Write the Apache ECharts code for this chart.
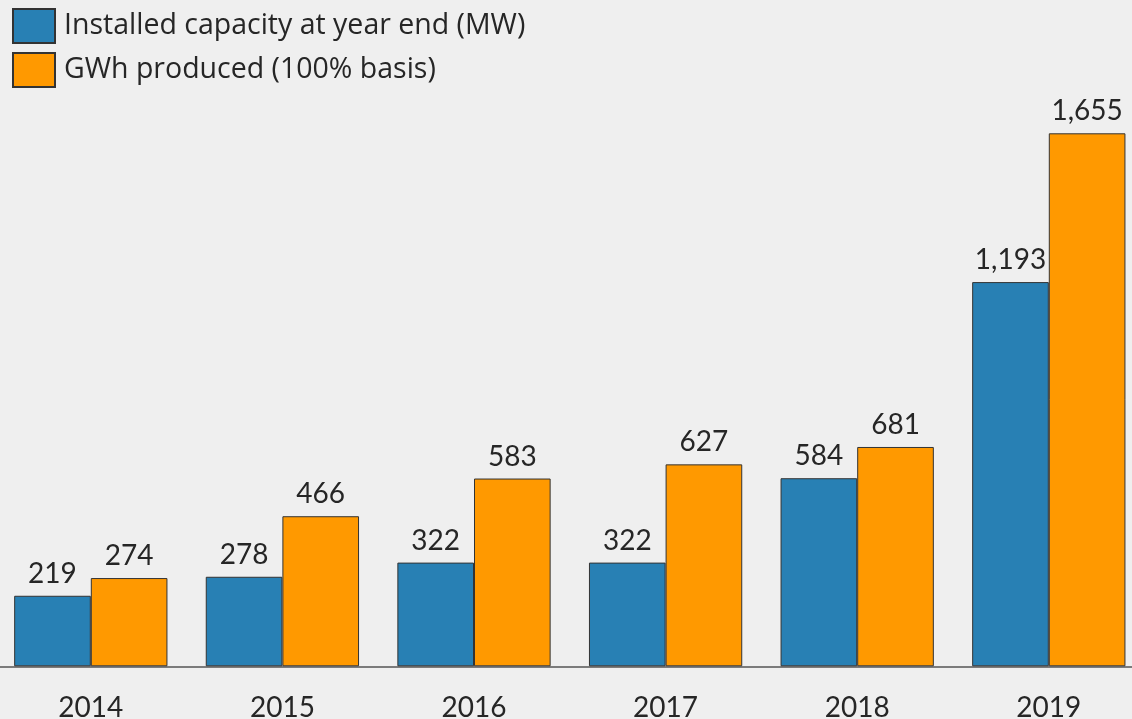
<!DOCTYPE html>
<html><head><meta charset="utf-8">
<script src="https://cdn.jsdelivr.net/npm/echarts@6/dist/echarts.min.js"></script>
<style>html,body{margin:0;padding:0;background:#efefef}#c{width:1132px;height:719px}</style>
</head><body><div id="c"></div>
<script>
const years = ['2014','2015','2016','2017','2018','2019'];
const capacityMW = [219, 278, 322, 322, 584, 1193];
const gwhProduced = [274, 466, 583, 627, 681, 1655];
const seriesNames = ['Installed capacity at year end (MW)', 'GWh produced (100% basis)'];

const chart = echarts.init(document.getElementById('c'), null, {renderer:'canvas'});
const font = 'Lato';
const labelCfg = {show:true, position:'top', distance:8, color:'#262626', fontFamily:font, fontSize:28,
  formatter: p => p.value.toLocaleString('en-US')};
chart.setOption({
  backgroundColor:'#efefef',
  animation:false,
  legend:{orient:'vertical', left:12, top:8, padding:0, itemWidth:42, itemHeight:34, itemGap:8,
    icon:'rect',
    textStyle:{fontFamily:'Open Sans', fontSize:28.5, color:'#262626', padding:[0,0,0,4]},
    data:seriesNames},
  grid:{left:-5, width:1149.6, top:133.3, height:533, containLabel:false, outerBoundsMode:'none'},
  xAxis:{type:'category', data:years,
    axisLine:{show:true, lineStyle:{color:'#555', width:1.5}},
    axisTick:{show:false},
    axisLabel:{fontFamily:font, fontSize:28, color:'#262626', margin:28}},
  yAxis:{type:'value', min:0, max:1655, show:false, splitLine:{show:false}},
  series:[
    {name:seriesNames[0], type:'bar', data:capacityMW, barGap:'0%', barCategoryGap:'20%',
      itemStyle:{color:'#2880b4', borderColor:'#333', borderWidth:1}, label:labelCfg},
    {name:seriesNames[1], type:'bar', data:gwhProduced, barGap:'0%', barCategoryGap:'20%',
      itemStyle:{color:'#ff9900', borderColor:'#333', borderWidth:1}, label:labelCfg}
  ]
});
</script></body></html>
